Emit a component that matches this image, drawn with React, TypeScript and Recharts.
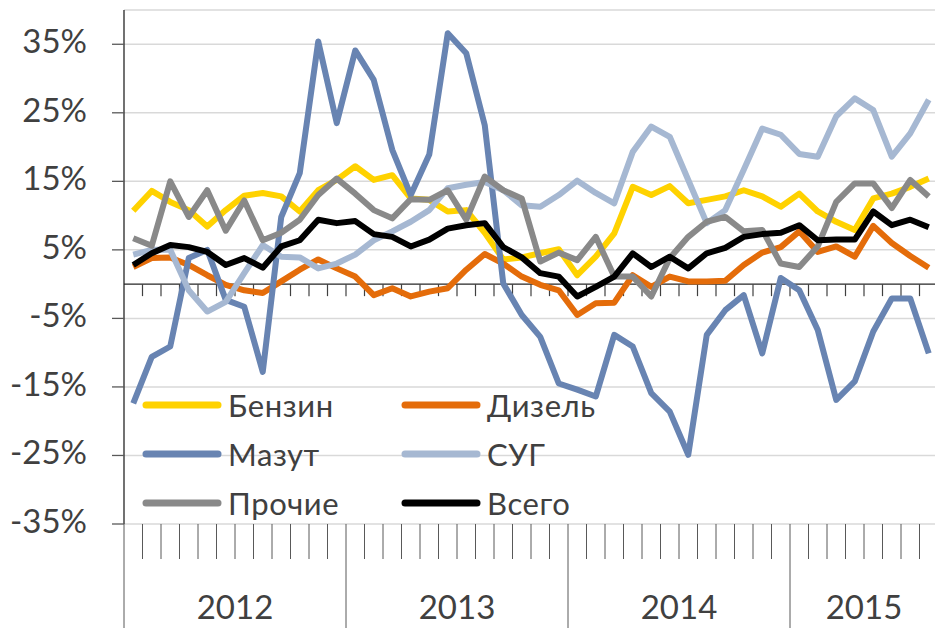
import React from 'react';
import { LineChart, Line, XAxis, YAxis, CartesianGrid, ReferenceLine, Legend } from 'recharts';

// Monthly data, Jan 2012 – Aug 2015 (44 months), y/y change, %
const years = ['2012', '2013', '2014', '2015'];
const yearCenters = [6, 18, 30, 40];
const monthBounds = Array.from({ length: 45 }, (_, k) => k);
const yTicks = [-35, -25, -15, -5, 5, 15, 25, 35];

const benzin = [10.7, 13.6, 12.0, 10.8, 8.4, 10.8, 12.9, 13.3, 12.8, 10.6, 13.7, 15.2,
  17.2, 15.2, 15.9, 12.5, 12.3, 10.6, 10.8, 7.5, 3.6, 3.9, 4.5, 5.1,
  1.3, 4.0, 7.4, 14.2, 13.0, 14.3, 11.8, 12.3, 12.8, 13.7, 12.8, 11.3,
  13.2, 10.6, 9.1, 7.9, 12.5, 13.2, 14.2, 15.4];
const dizel = [2.5, 3.8, 3.9, 2.8, 1.3, -0.1, -0.9, -1.3, 0.4, 2.1, 3.6, 2.3,
  1.1, -1.6, -0.6, -1.8, -1.1, -0.6, 2.1, 4.4, 3.0, 1.1, -0.1, -0.9,
  -4.5, -2.8, -2.7, 1.3, -0.4, 1.1, 0.4, 0.4, 0.5, 2.8, 4.6, 5.4,
  7.7, 4.7, 5.5, 4.0, 8.5, 6.0, 4.1, 2.4];
const mazut = [-17.4, -10.6, -9.1, 3.8, 5.0, -2.3, -3.3, -12.8, 9.8, 16.2, 35.4, 23.5,
  34.1, 29.8, 19.6, 13.0, 18.9, 36.6, 33.7, 23.2, 0.1, -4.5, -7.7, -14.5,
  -15.4, -16.4, -7.4, -9.1, -15.9, -18.6, -24.9, -7.4, -3.8, -1.6, -10.1, 0.9,
  -0.9, -6.7, -16.9, -14.2, -6.9, -2.1, -2.1, -10.1];
const sug = [4.3, 5.0, 5.0, -0.9, -4.0, -2.6, 1.6, 5.7, 4.0, 3.9, 2.3, 3.0,
  4.3, 6.4, 7.7, 9.1, 10.8, 14.0, 14.5, 14.9, 13.7, 11.5, 11.3, 13.0,
  15.1, 13.3, 11.8, 19.3, 23.0, 21.5, 15.2, 8.9, 10.8, 16.7, 22.7, 21.8,
  19.0, 18.6, 24.5, 27.1, 25.4, 18.6, 22.0, 26.9];
const prochie = [6.7, 5.6, 15.0, 9.8, 13.7, 7.8, 12.2, 6.4, 7.5, 9.4, 13.0, 15.4,
  13.2, 10.8, 9.6, 12.4, 12.3, 13.7, 9.4, 15.7, 13.7, 12.5, 3.3, 4.6,
  3.5, 6.9, 1.1, 1.1, -1.8, 3.8, 6.9, 9.1, 9.8, 7.7, 7.9, 3.0,
  2.5, 5.5, 12.0, 14.7, 14.7, 11.1, 15.2, 12.8];
const vsego = [2.8, 4.5, 5.7, 5.4, 4.7, 2.8, 3.8, 2.4, 5.5, 6.4, 9.4, 8.9,
  9.2, 7.3, 6.9, 5.5, 6.5, 8.1, 8.6, 8.9, 5.4, 3.9, 1.6, 1.1,
  -1.8, -0.4, 1.1, 4.5, 2.5, 4.0, 2.3, 4.5, 5.3, 6.9, 7.3, 7.5,
  8.6, 6.4, 6.5, 6.5, 10.6, 8.6, 9.4, 8.3];

const seriesKeys = ['benzin', 'dizel', 'mazut', 'sug', 'prochie', 'vsego'];
const seriesNames = ['Бензин', 'Дизель', 'Мазут', 'СУГ', 'Прочие', 'Всего'];
const seriesColors = ['#FFD200', '#E46C0A', '#6884B2', '#A6B8D2', '#898989', '#000000'];
const seriesValues = [benzin, dizel, mazut, sug, prochie, vsego];

const data = benzin.map((_, i) => {
  const row: Record<string, number> = { pos: i + 0.5 };
  seriesKeys.forEach((k, s) => { row[k] = seriesValues[s][i]; });
  return row;
});

const FONT = "Lato, 'Open Sans', sans-serif";
const TEXT = '#404040';

const YTick = (props: any) => {
  const { x, y, payload } = props;
  return (
    <text x={x} y={y} dy={9} textAnchor="end" fontFamily={FONT} fontSize={33} fill={TEXT}>
      {payload.value}%
    </text>
  );
};

// Month boundary ticks; year boundaries get long dividers, year centres get the year label
const MonthTick = (props: any) => {
  const { x, y, payload } = props;
  const isYear = payload.value % 12 === 0;
  const yi = yearCenters.indexOf(payload.value);
  return (
    <g>
      <line x1={x} x2={x} y1={y} y2={y + (isYear ? 104 : 35)} stroke="#595959" strokeWidth={1} />
      {yi >= 0 && (
        <text x={x} y={y + 95} textAnchor="middle" fontFamily={FONT} fontSize={33} fill={TEXT}>
          {years[yi]}
        </text>
      )}
    </g>
  );
};

const renderLegend = (props: any) => {
  const items = [...(props.payload || [])].sort(
    (a: any, b: any) => seriesNames.indexOf(a.value) - seriesNames.indexOf(b.value)
  );
  return (
    <div style={{ display: 'grid', gridTemplateColumns: '259px 220px' }}>
      {items.map((it: any) => (
        <div key={it.value} style={{ display: 'flex', alignItems: 'center', height: 49 }}>
          <svg width={80} height={10} style={{ display: 'block' }}>
            <line x1={4} y1={5} x2={76} y2={5} stroke={it.color} strokeWidth={7} strokeLinecap="round" />
          </svg>
          <span style={{ marginLeft: 6, fontFamily: FONT, fontSize: 31, letterSpacing: 0.6, color: TEXT, lineHeight: '36px' }}>
            {it.value}
          </span>
        </div>
      ))}
    </div>
  );
};

export default function App() {
  return (
    <div style={{ position: 'absolute', left: 0, top: 0, width: 935, height: 628, overflow: 'hidden', background: '#fff' }}>
      <LineChart width={938} height={628} data={data} margin={{ top: 10, right: 0, left: 0, bottom: 0 }}>
        <CartesianGrid vertical={false} stroke="#D9D9D9" strokeWidth={1.5} yAxisId={0} xAxisId="m" />
        <XAxis xAxisId="m" type="number" dataKey="pos" domain={[0, 44]} ticks={monthBounds}
          height={104} axisLine={false} tickLine={false} tickSize={0} tickMargin={0} interval={0} tick={<MonthTick />} allowDataOverflow />
        <YAxis yAxisId={0} type="number" domain={[-35, 40]} ticks={yTicks} width={124} allowDataOverflow
          axisLine={{ stroke: '#262626', strokeWidth: 1.3 }} tickLine={{ stroke: '#595959', strokeWidth: 1.3 }}
          tickSize={12} tickMargin={25} interval={0} tick={<YTick />} />
        <ReferenceLine xAxisId="m" y={0} stroke="#262626" strokeWidth={1.3} />
        {monthBounds.slice(1, 44).map((k) => (
          <ReferenceLine key={k} xAxisId="m" segment={[{ x: k, y: 0 }, { x: k, y: -1.75 }]} stroke="#404040" strokeWidth={1.2} />
        ))}
        {seriesKeys.map((k, s) => (
          <Line key={k} xAxisId="m" type="linear" dataKey={k} name={seriesNames[s]} stroke={seriesColors[s]}
            strokeWidth={6} dot={false} activeDot={false} strokeLinejoin="round" isAnimationActive={false} />
        ))}
        <Legend layout="horizontal" verticalAlign="middle" align="center" content={renderLegend}
          wrapperStyle={{ left: 142, top: 380, width: 520, height: 147 }} />
      </LineChart>
    </div>
  );
}
